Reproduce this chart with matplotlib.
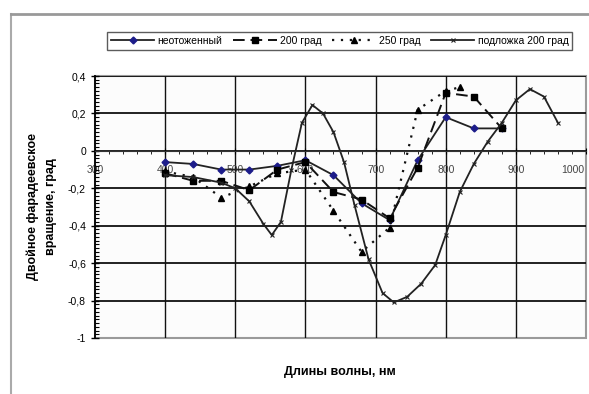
import numpy as np
import matplotlib
matplotlib.use('Agg')
import matplotlib.pyplot as plt
from matplotlib.patches import Rectangle
from matplotlib.lines import Line2D

plt.rcParams['font.family'] = ['Liberation Sans Narrow', 'Liberation Sans', 'DejaVu Sans']

# data
wl = [400, 440, 480, 520, 560, 600, 640, 680, 720, 760, 800, 840, 880]
unannealed = [-0.06, -0.07, -0.10, -0.10, -0.08, -0.05, -0.13, -0.28, -0.37, -0.05, 0.18, 0.12, 0.12]
ann200 = [-0.12, -0.16, -0.16, -0.21, -0.10, -0.06, -0.22, -0.26, -0.36, -0.09, 0.31, 0.29, 0.12]
wl250 = [400, 440, 480, 520, 560, 600, 640, 680, 720, 760, 800, 820]
ann250 = [-0.11, -0.14, -0.25, -0.19, -0.12, -0.10, -0.32, -0.54, -0.41, 0.22, 0.32, 0.34]
wl_sub = [400, 440, 480, 500, 520, 540, 552, 565, 580, 595, 610, 625, 640, 655, 670, 690,
          710, 726, 745, 765, 785, 800, 820, 840, 860, 880, 900, 920, 940, 960]
sub200 = [-0.13, -0.14, -0.17, -0.20, -0.27, -0.39, -0.45, -0.38, -0.10, 0.15, 0.245, 0.20,
          0.10, -0.06, -0.29, -0.58, -0.76, -0.81, -0.78, -0.71, -0.61, -0.45, -0.22, -0.07,
          0.05, 0.15, 0.27, 0.33, 0.29, 0.15]

labels = ['неотоженный', '200 град', '250 град', 'подложка 200 град']
yticks = [0.4, 0.2, 0, -0.2, -0.4, -0.6, -0.8, -1]
ytick_labels = ['0,4', '0,2', '0', '-0,2', '-0,4', '-0,6', '-0,8', '-1']
xticks = [300, 400, 500, 600, 700, 800, 900, 1000]

fig = plt.figure(figsize=(5.89, 3.94), dpi=100)
ax = fig.add_axes([95/589, 56/394, 491/589, 262/394])
ax.set_facecolor('#fcfcfc')

l1, = ax.plot(wl, unannealed, color='#222222', lw=1.3, marker='D', ms=3.5,
              mfc='#1c1c8a', mec='#1c1c8a', label=labels[0])
l2, = ax.plot(wl, ann200, color='#111111', lw=1.4, ls=(0, (6, 3)), marker='s', ms=4,
              mfc='black', mec='black', label=labels[1])
l3, = ax.plot(wl250, ann250, color='#111111', lw=1.6, ls=(0, (1, 3)), marker='^', ms=4,
              mfc='black', mec='black', label=labels[2])
l4, = ax.plot(wl_sub, sub200, color='#222222', lw=1.3, marker='x', ms=2.5,
              mew=0.8, label=labels[3])

ax.set_xlim(300, 1000)
ax.set_ylim(-1, 0.4)
ax.set_xticks(xticks)
# last label is drawn separately, right-aligned so it stays inside the picture
ax.set_xticklabels([str(t) for t in xticks[:-1]] + [''])
ax.annotate(str(xticks[-1]), xy=(xticks[-1], 0), xytext=(-1, -10), textcoords='offset points',
            ha='right', va='top', fontsize=7.5, color='#444444', annotation_clip=False)
ax.set_xticks(np.arange(300, 1001, 20), minor=True)
ax.set_yticks(yticks)
ax.set_yticklabels(ytick_labels)
ax.set_yticks(np.arange(-1, 0.401, 0.02), minor=True)

for t in xticks[1:-1]:
    ax.axvline(t, color='#111111', lw=1.0, zorder=0.5)
for t in yticks[:-1]:
    ax.axhline(t, color='#111111', lw=1.3, zorder=0.5)

for s in ['top', 'right']:
    ax.spines[s].set_visible(False)
ax.spines['bottom'].set_position(('data', 0))
ax.spines['bottom'].set_color('#333333')
ax.spines['left'].set_linewidth(1.3)
ax.tick_params(axis='y', which='major', direction='inout', length=6, width=1, labelsize=7.5)
ax.tick_params(axis='y', which='minor', direction='in', length=3, width=0.8)
ax.tick_params(axis='x', which='major', direction='inout', length=4, pad=8,
               labelsize=7.5, labelcolor='#444444')
ax.tick_params(axis='x', which='minor', direction='out', length=2.5)
ax.add_patch(Rectangle((0, 0), 1, 1, transform=ax.transAxes, fill=False,
                       ec='#9a9a9a', lw=1.5, clip_on=False, zorder=0.4))

fig.text(339.5/589, 1 - 372/394, 'Длины волны, нм', fontsize=9, fontweight='bold',
         ha='center', va='center')
ax.set_ylabel('Двойное фарадеевское\nвращение, град', fontsize=9, fontweight='bold',
              labelpad=8, linespacing=1.6)

fig.legend(handles=[l1, l2, l3, l4], loc='center', bbox_to_anchor=(339.5/589, 1 - 41/394),
           ncol=4, fontsize=7.5, frameon=True, fancybox=False, edgecolor='#333333',
           handlelength=4.2, handletextpad=0.3, columnspacing=1.0, borderpad=0.4)

# outer frame of the picture
fig.add_artist(Line2D([11/589, 11/589], [0, 1 - 14/394], color='#aaaaaa', lw=1.5))
fig.add_artist(Line2D([11/589, 1], [1 - 14/394, 1 - 14/394], color='#999999', lw=2))

fig.savefig('out.png', dpi=100)
